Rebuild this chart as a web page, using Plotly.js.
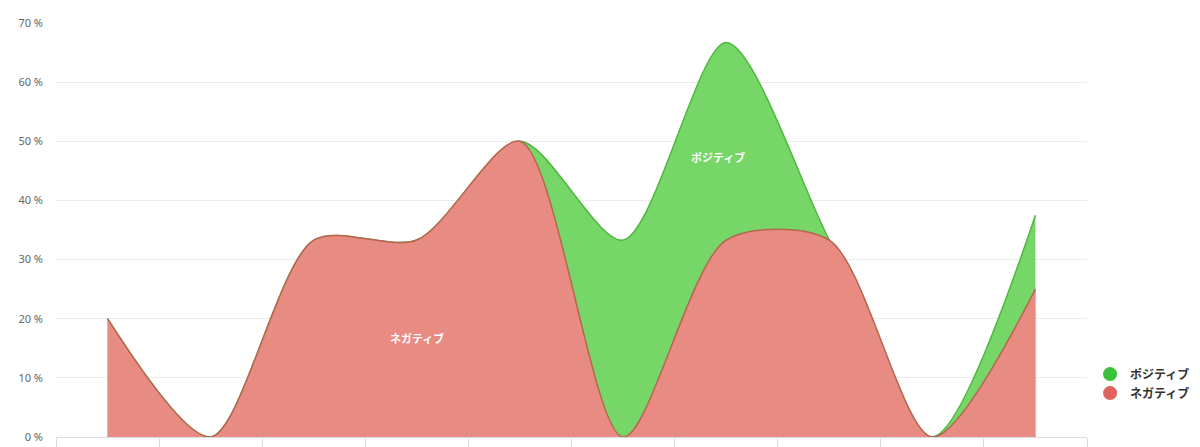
<!DOCTYPE html>
<html>
<head>
<meta charset="utf-8">
<script src="https://cdn.plot.ly/plotly-3.0.1.min.js"></script>
<style>
  html, body { margin: 0; padding: 0; background: #fff; }
  #chart { width: 1200px; height: 447px; }
</style>
</head>
<body>
<div id="chart"></div>
<script>
// categories (labels are cut off in the picture, so only positions)
const points = [0, 1, 2, 3, 4, 5, 6, 7, 8, 9];

// share per category, %
const positive = [20, 0, 33.3, 33.3, 50, 33.3, 66.7, 33.3, 0, 37.5];
const negative = [20, 0, 33.3, 33.3, 50, 0, 33.3, 33.3, 0, 25];

const seriesNames = ["ポジティブ", "ネガティブ"];
const yTicks = [0, 10, 20, 30, 40, 50, 60, 70];
const yTickLabels = ["0 %", "10 %", "20 %", "30 %", "40 %", "50 %", "60 %", "70 %"];
const boundaries = [-0.5, 0.5, 1.5, 2.5, 3.5, 4.5, 5.5, 6.5, 7.5, 8.5, 9.5];

const fontFamily = "Noto Sans, Noto Sans CJK JP, sans-serif";
const smooth = 0.8;

const traces = [];

// positive area (behind)
traces.push({
    x: points,
    y: positive,
    mode: "lines",
    line: { shape: "spline", smoothing: smooth, color: "#4fb83e", width: 1.5 },
    fill: "tozeroy",
    fillcolor: "rgba(118,214,104,1)",
    showlegend: false,
    hoverinfo: "skip"
});

// negative area (front)
traces.push({
    x: points,
    y: negative,
    mode: "lines",
    line: { shape: "spline", smoothing: smooth, color: "#b8654f", width: 1.5 },
    fill: "tozeroy",
    fillcolor: "rgba(232,139,131,1)",
    showlegend: false,
    hoverinfo: "skip"
});

// legend entries
traces.push({
    x: [null],
    y: [null],
    mode: "markers",
    marker: { color: "#3cc13a", size: 14, symbol: "circle" },
    name: seriesNames[0]
});

traces.push({
    x: [null],
    y: [null],
    mode: "markers",
    marker: { color: "#e0635f", size: 14, symbol: "circle" },
    name: seriesNames[1]
});

Plotly.newPlot(
    "chart",
    traces,
    {
        width: 1200,
        height: 447,
        margin: { l: 56, r: 113, t: 23, b: 10, autoexpand: false },
        paper_bgcolor: "#ffffff",
        plot_bgcolor: "#ffffff",
        font: { family: fontFamily, size: 11, color: "#666666" },

        xaxis: {
            range: [-0.5, 9.5],
            showgrid: false,
            zeroline: false,
            showline: true,
            linecolor: "#d8dde8",
            linewidth: 1,
            tickmode: "array",
            tickvals: boundaries,
            ticks: "outside",
            ticklen: 10,
            tickcolor: "#d8dde8",
            showticklabels: false,
            fixedrange: true
        },

        yaxis: {
            range: [0, 70],
            tickmode: "array",
            tickvals: yTicks,
            ticktext: yTickLabels,
            showgrid: true,
            gridcolor: "#ececec",
            zeroline: false,
            ticks: "",
            ticklabelstandoff: 12,
            tickfont: { size: 11, color: "#666666" },
            fixedrange: true
        },

        legend: {
            x: 1.003,
            xanchor: "left",
            y: 0.187,
            yanchor: "top",
            font: { family: fontFamily, size: 12, color: "#333333", weight: "bold" },
            itemwidth: 30,
            tracegroupgap: 0
        },

        annotations: [
            {
                x: 3, y: 16.7,
                xref: "x", yref: "y",
                text: seriesNames[1],
                showarrow: false,
                font: { family: fontFamily, size: 11, color: "#ffffff", weight: "bold" }
            },
            {
                x: 5.92, y: 47.2,
                xref: "x", yref: "y",
                text: seriesNames[0],
                showarrow: false,
                font: { family: fontFamily, size: 11, color: "#ffffff", weight: "bold" }
            }
        ],

        showlegend: true
    },
    { displayModeBar: false, staticPlot: true }
);
</script>
</body>
</html>
